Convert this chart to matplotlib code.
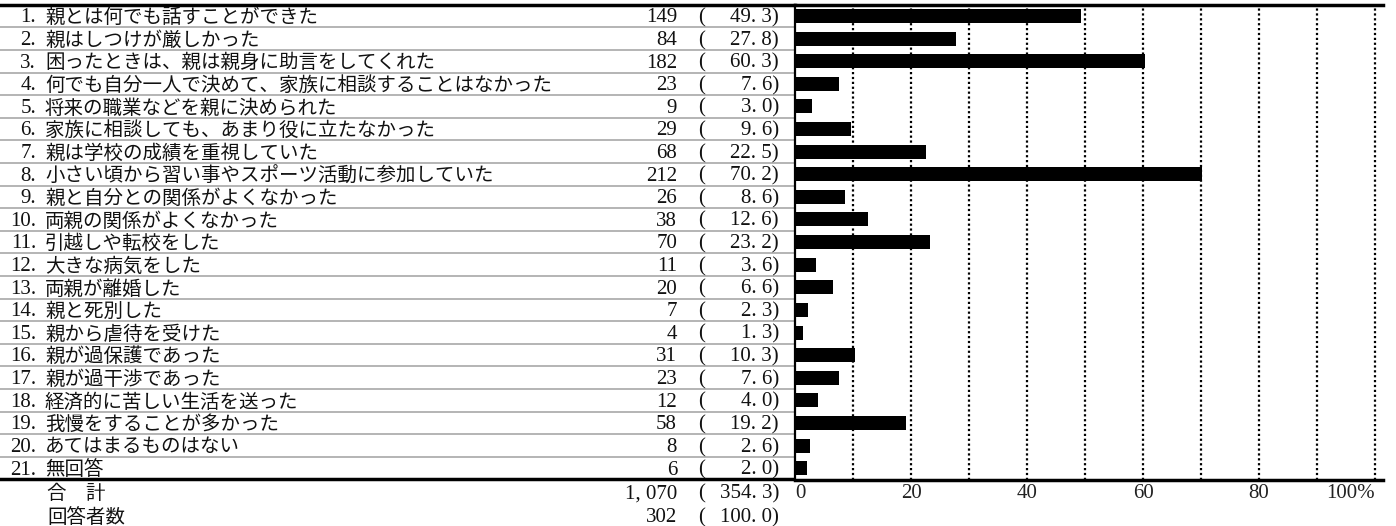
import matplotlib
matplotlib.use('Agg')
import matplotlib.pyplot as plt
import numpy as np

plt.rcParams['font.family'] = ['Liberation Serif', 'Noto Sans CJK JP']

items = ['親とは何でも話すことができた',
         '親はしつけが厳しかった',
         '困ったときは、親は親身に助言をしてくれた',
         '何でも自分一人で決めて、家族に相談することはなかった',
         '将来の職業などを親に決められた',
         '家族に相談しても、あまり役に立たなかった',
         '親は学校の成績を重視していた',
         '小さい頃から習い事やスポーツ活動に参加していた',
         '親と自分との関係がよくなかった',
         '両親の関係がよくなかった',
         '引越しや転校をした',
         '大きな病気をした',
         '両親が離婚した',
         '親と死別した',
         '親から虐待を受けた',
         '親が過保護であった',
         '親が過干渉であった',
         '経済的に苦しい生活を送った',
         '我慢をすることが多かった',
         'あてはまるものはない',
         '無回答']
counts = [149, 84, 182, 23, 9, 29, 68, 212, 26, 38, 70, 11, 20, 7, 4, 31, 23, 12, 58, 8, 6]
pcts = [49.3, 27.8, 60.3, 7.6, 3.0, 9.6, 22.5, 70.2, 8.6, 12.6, 23.2, 3.6, 6.6, 2.3, 1.3,
        10.3, 7.6, 4.0, 19.2, 2.6, 2.0]
total_label = '合　計'
total_count = '1, 070'
total_pct = 354.3
resp_label = '回答者数'
resp_count = '302'
resp_pct = 100.0
tick_vals = [0, 20, 40, 60, 80, 100]
tick_labels = ['0', '20', '40', '60', '80', '100%']

W, H = 1396, 526
fig = plt.figure(figsize=(W / 100, H / 100), dpi=100)

top_px, bot_px = 4.7, 479.5
x0_px, x1_px = 795, 1383
ax_t = fig.add_axes([0, 1 - bot_px / H, x0_px / W, (bot_px - top_px) / H])
ax = fig.add_axes([x0_px / W, 1 - bot_px / H, (x1_px - x0_px) / W, (bot_px - top_px) / H])

n = len(items)
y = np.arange(n)
fs = 14
fn = 15
tc = '#111'
dy = 0.08


def pct_str(p):
    # wide decimal point like the original table
    return f'{p:.1f})'.replace('.', '. ')


# table part
ax_t.set_xlim(0, x0_px)
ax_t.set_ylim(n - 0.5, -0.5)
ax_t.axis('off')
for k in range(n - 1):
    ax_t.axhline(k + 0.5, color='#a8a8a8', lw=1.2)
ax_t.axhline(-0.5, color='black', lw=2.5, clip_on=False)
ax_t.axhline(n - 0.5, color='black', lw=2.5, clip_on=False)

for i in range(n):
    yy = y[i] + dy
    ax_t.text(36, yy, f'{i + 1}.', ha='right', va='center', fontsize=fn, color=tc)
    ax_t.text(45, yy, items[i], ha='left', va='center', fontsize=fs, color=tc)
    ax_t.text(677, yy, f'{counts[i]}', ha='right', va='center', fontsize=fn, color=tc)
    ax_t.text(702, yy, '(', ha='center', va='center', fontsize=fn, color=tc)
    ax_t.text(779, yy, pct_str(pcts[i]), ha='right', va='center', fontsize=fn, color=tc)

for yy, lab, c, p in [(n + 0.15, total_label, total_count, total_pct),
                      (n + 1.2, resp_label, resp_count, resp_pct)]:
    ax_t.text(47, yy, lab, ha='left', va='center', fontsize=fs, color=tc, clip_on=False)
    ax_t.text(677, yy, c, ha='right', va='center', fontsize=fn, color=tc, clip_on=False)
    ax_t.text(702, yy, '(', ha='center', va='center', fontsize=fn, color=tc, clip_on=False)
    ax_t.text(779, yy, pct_str(p), ha='right', va='center', fontsize=fn, color=tc, clip_on=False)

# bar part
ax.barh(y, pcts, height=0.62, color='black', zorder=3)
ax.set_xlim(0, (x1_px - x0_px) / 5.8)
ax.set_ylim(n - 0.5, -0.5)
for g in range(10, 101, 10):
    ax.axvline(g, color='black', lw=1.6, ls=(0, (1, 1.2)), zorder=2)
ax.spines['right'].set_visible(False)
ax.spines['left'].set_linewidth(1.6)
ax.spines['top'].set_linewidth(2.5)
ax.spines['bottom'].set_linewidth(2.5)
ax.set_yticks([])
ax.set_xticks(tick_vals)
ax.set_xticklabels(tick_labels, fontsize=fn, color='#222')
ax.tick_params(axis='x', length=0, pad=3)
tl = ax.get_xticklabels()
tl[0].set_ha('left')
tl[-1].set_ha('right')

fig.savefig('out.png', dpi=100)
